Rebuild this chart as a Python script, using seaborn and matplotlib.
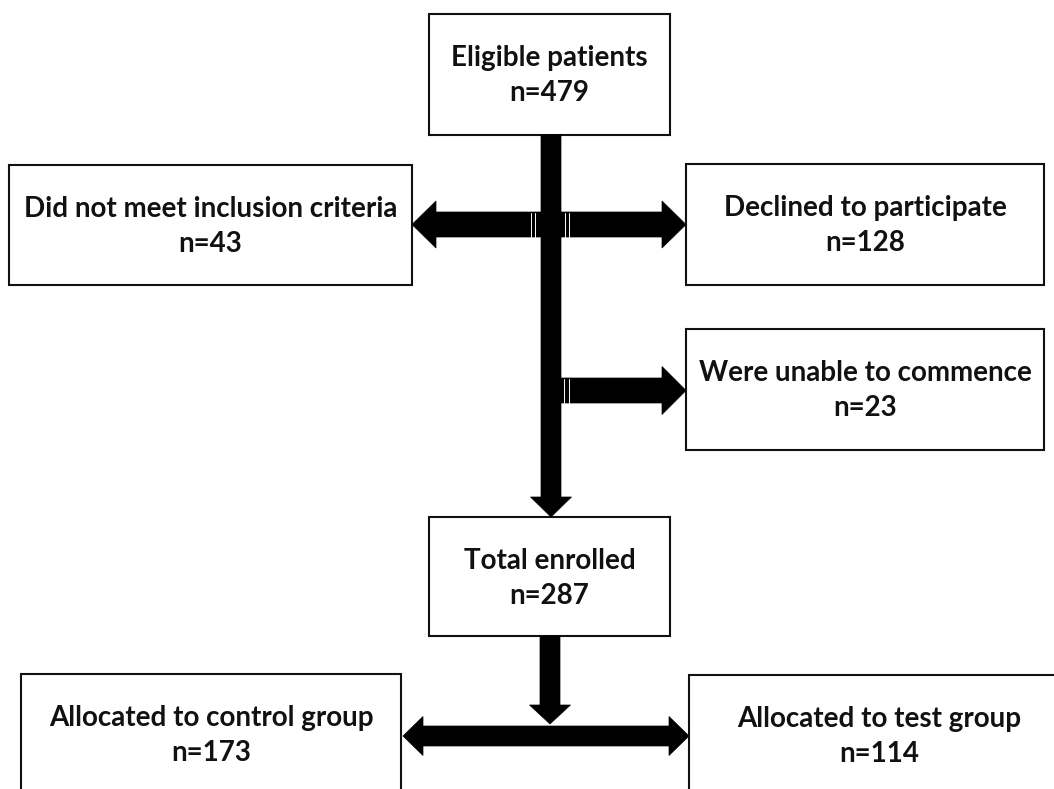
import matplotlib
matplotlib.use("Agg")
import matplotlib.pyplot as plt
from matplotlib.patches import Rectangle, Polygon
import seaborn as sns

# Flow data
stages = ["Eligible patients", "Did not meet inclusion criteria", "Declined to participate",
          "Were unable to commence", "Total enrolled",
          "Allocated to control group", "Allocated to test group"]
counts = [479, 43, 128, 23, 287, 173, 114]

# Box layout in pixels (x0, y0, x1, y1), y grows downwards
box_layout = [
    (429, 14, 670, 135),
    (9, 165, 412, 285),
    (686, 164, 1044, 285),
    (686, 329, 1044, 450),
    (429, 517, 670, 636),
    (21, 674, 401, 820),
    (689, 675, 1069, 820),
]

sns.set_theme(style="white")
plt.rcParams["font.family"] = ["Lato", "DejaVu Sans"]

W, H = 1054, 789
fig = plt.figure(figsize=(W / 100, H / 100), dpi=100)
ax = fig.add_axes([0, 0, 1, 1])
ax.set_xlim(0, W)
ax.set_ylim(H, 0)
ax.axis("off")


def h_arrow(x0, x1, yc, shaft, head, hlen, double=False):
    # horizontal arrow, tip at x1 (and at x0 when double)
    d = 1 if x1 > x0 else -1
    pts = []
    if double:
        pts += [(x0, yc), (x0 + d * hlen, yc - head), (x0 + d * hlen, yc - shaft)]
    else:
        pts += [(x0, yc - shaft)]
    pts += [(x1 - d * hlen, yc - shaft), (x1 - d * hlen, yc - head), (x1, yc),
            (x1 - d * hlen, yc + head), (x1 - d * hlen, yc + shaft)]
    if double:
        pts += [(x0 + d * hlen, yc + shaft), (x0 + d * hlen, yc + head)]
    else:
        pts += [(x0, yc + shaft)]
    ax.add_patch(Polygon(pts, closed=True, fc="black", ec="black", lw=0.5, zorder=3))


def v_arrow(xc, y0, y1, shaft, head, hlen):
    pts = [(xc - shaft, y0), (xc - shaft, y1 - hlen), (xc - head, y1 - hlen), (xc, y1),
           (xc + head, y1 - hlen), (xc + shaft, y1 - hlen), (xc + shaft, y0)]
    ax.add_patch(Polygon(pts, closed=True, fc="black", ec="black", lw=0.5, zorder=3))


# arrows
v_arrow(551, 135, 517, 10, 20.5, 20)
h_arrow(412, 686, 224.5, 12.5, 23.5, 24, double=True)
h_arrow(556, 686, 390.5, 12.5, 24, 24)
v_arrow(550, 636, 724, 10, 20.5, 19)
h_arrow(403, 689, 736, 10, 19.5, 20, double=True)

# thin white seams where the side arrows meet the trunk
for xs in [531, 535, 565, 569]:
    ax.plot([xs, xs], [212.5, 236.5], color="white", lw=0.7, zorder=4)
for xs in [564, 569]:
    ax.plot([xs, xs], [378.5, 402.5], color="white", lw=0.7, zorder=4)

# boxes and labels
for label, n, (x0, y0, x1, y1) in zip(stages, counts, box_layout):
    ax.add_patch(Rectangle((x0, y0), x1 - x0, y1 - y0, fc="white", ec="#111111",
                           lw=1.5, zorder=2))
    xc = (x0 + x1) / 2
    ax.text(xc, y0 + 44, label, ha="center", va="center", fontsize=20,
            fontweight="bold", color="#111111", zorder=5)
    ax.text(xc, y0 + 79, f"n={n}", ha="center", va="center", fontsize=20,
            fontweight="bold", color="#111111", zorder=5)

fig.savefig("out.png", dpi=100, facecolor="white")
